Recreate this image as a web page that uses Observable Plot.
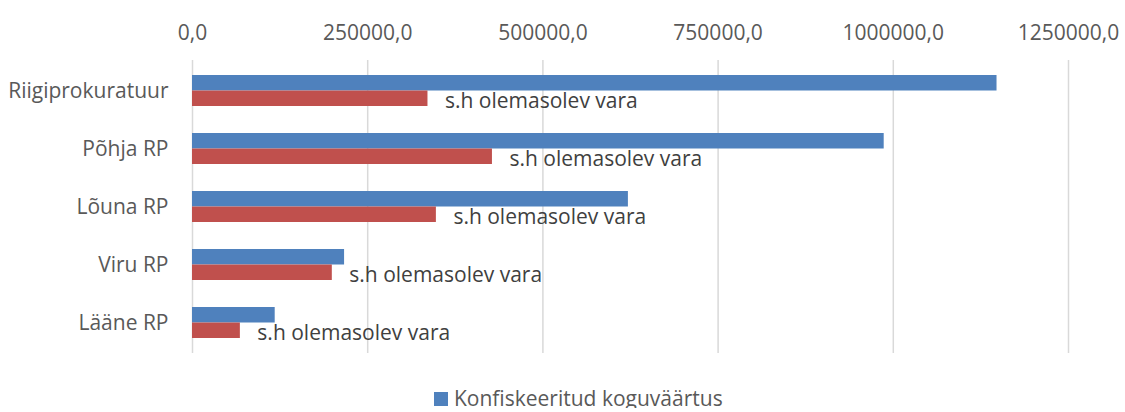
<!DOCTYPE html>
<html><head><meta charset="utf-8">
<script src="https://cdn.jsdelivr.net/npm/d3@7"></script>
<script src="https://cdn.jsdelivr.net/npm/@observablehq/plot@0.6"></script>
<style>
body{margin:0;background:#fff;font-family:"Open Sans",sans-serif;overflow:hidden;}
#legend{padding-left:434px;font-size:21px;line-height:20px;color:#595959;white-space:nowrap;}
#legend .sw{display:inline-block;width:14px;height:14px;background:#4f81bd;margin-right:6px;vertical-align:baseline;}
</style></head><body>
<div id="chart"></div>
<div id="legend"></div>
<script>
const categories = ["Riigiprokuratuur", "Põhja RP", "Lõuna RP", "Viru RP", "Lääne RP"];
const totalValues = [1148000, 987000, 622000, 217000, 118000];
const existingValues = [336000, 428000, 348000, 199500, 68300];
const seriesNames = ["Konfiskeeritud koguväärtus", "s.h olemasolev vara"];
const tickValues = [0, 250000, 500000, 750000, 1000000, 1250000];
const tickLabels = ["0,0", "250000,0", "500000,0", "750000,0", "1000000,0", "1250000,0"];

const blue = "#4f81bd", red = "#c0504d";
const rows = categories.map((c, i) => ({category: c, total: totalValues[i], existing: existingValues[i], label: seriesNames[1]}));

const chart = Plot.plot({
  width: 1125, height: 388,
  marginTop: 60, marginBottom: 35, marginLeft: 192, marginRight: 57,
  style: {fontFamily: "'Open Sans', sans-serif", fontSize: "21px", color: "#595959", background: "#fff"},
  x: {domain: [0, 1250000], axis: null},
  y: {domain: categories, paddingInner: 0.47, paddingOuter: 0.235, axis: null},
  marks: [
    Plot.gridX(tickValues, {stroke: "#d9d9d9", strokeOpacity: 1, strokeWidth: 1.5}),
    Plot.axisX({anchor: "top", ticks: tickValues, tickFormat: d => tickLabels[tickValues.indexOf(d)], tickSize: 0, tickPadding: 21, label: null, fill: "#595959", fontSize: 21}),
    Plot.axisY({anchor: "left", tickSize: 0, tickPadding: 24, label: null, fill: "#595959", fontSize: 21}),
    Plot.barX(rows, {x: "total", y: "category", fill: blue, insetBottom: 15.5}),
    Plot.barX(rows, {x: "existing", y: "category", fill: red, insetTop: 15.5}),
    Plot.text(rows, {x: "existing", y: "category", text: "label", dx: 17, dy: 10, textAnchor: "start", fill: "#404040", fontSize: 21})
  ]
});
document.getElementById("chart").appendChild(chart);
const lg = document.getElementById("legend");
const sw = document.createElement("span"); sw.className = "sw";
lg.appendChild(sw);
lg.appendChild(document.createTextNode(seriesNames[0]));
</script>
</body></html>
